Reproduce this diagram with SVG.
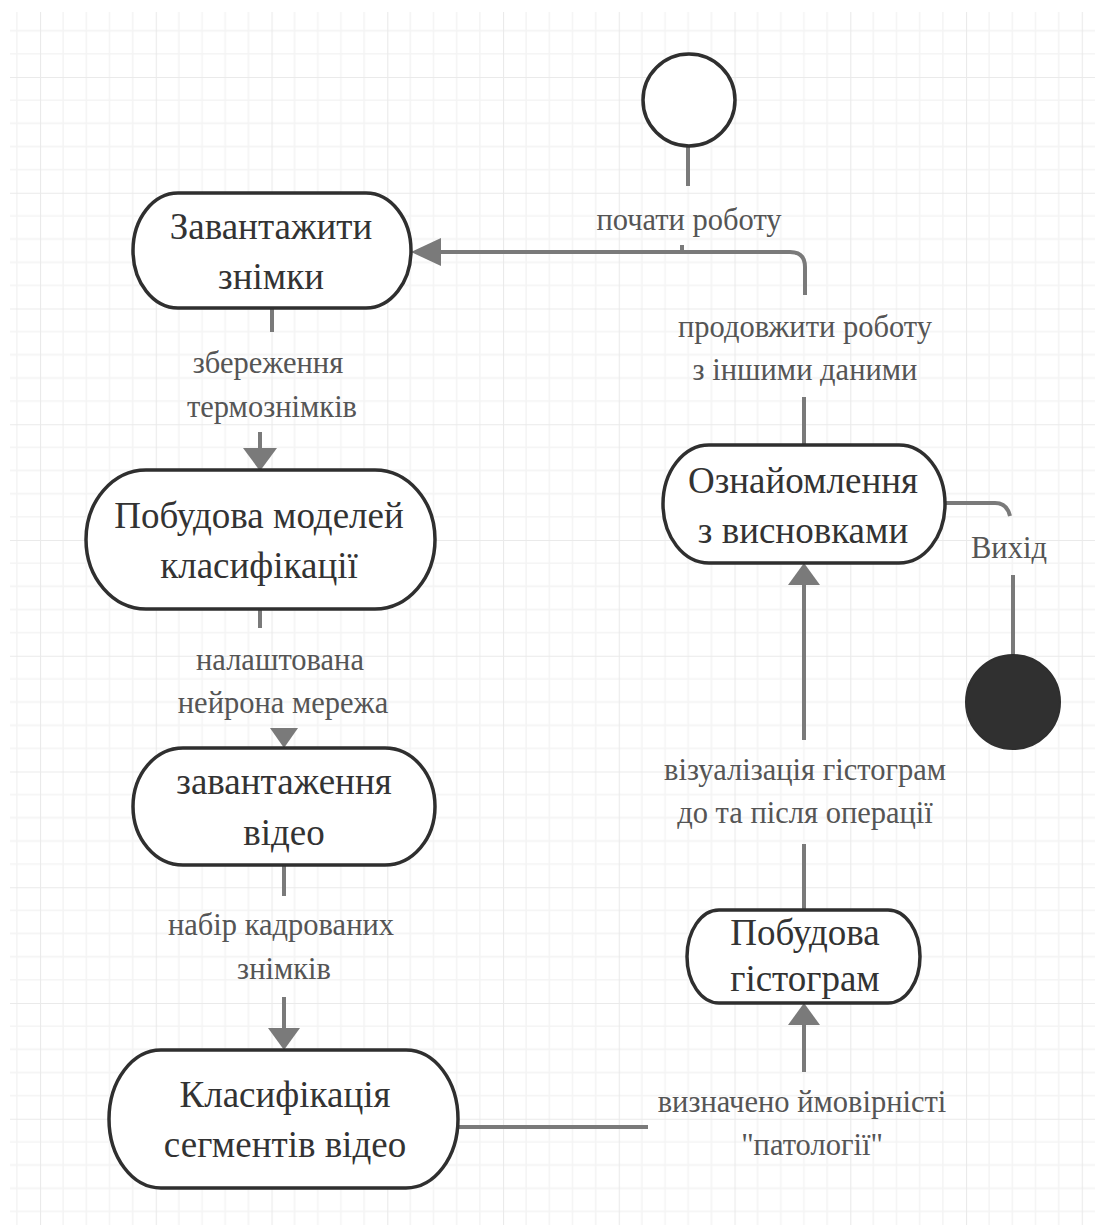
<svg xmlns="http://www.w3.org/2000/svg" width="1095" height="1226" viewBox="0 0 1095 1226">
<style>
.nt{font-family:"Liberation Serif","Times New Roman",serif;font-size:37px;fill:#333;text-anchor:middle}
.lb{font-family:"Liberation Serif","Times New Roman",serif;font-size:30.5px;fill:#555;text-anchor:middle}
.shape{fill:#fff;stroke:#2f2f2f;stroke-width:3.5}
.conn{fill:none;stroke:#7a7a7a;stroke-width:4}
.head{fill:#7a7a7a}
</style>
<defs>
<pattern id="grid" patternUnits="userSpaceOnUse" x="40" y="77" width="115.75" height="115.75">
<path d="M23.15 0V115.75M46.3 0V115.75M69.45 0V115.75M92.6 0V115.75M0 23.15H115.75M0 46.3H115.75M0 69.45H115.75M0 92.6H115.75" stroke="#f4f4f4" stroke-width="1.6" fill="none"/>
<path d="M0 0V115.75M0 0H115.75" stroke="#eaeaea" stroke-width="2.2" fill="none"/>
</pattern>
</defs>
<rect width="1095" height="1226" fill="#fff"/>
<rect x="10" y="12" width="1085" height="1213" fill="url(#grid)"/>

<g id="connectors">
<line class="conn" x1="688" y1="146" x2="688" y2="186"/>
<line class="conn" x1="682" y1="245" x2="682" y2="252"/>
<path class="conn" d="M805 295V267Q805 252 790 252H440"/>
<polygon class="head" points="411,252 441,238 441,266"/>
<line class="conn" x1="272" y1="308" x2="272" y2="332"/>
<line class="conn" x1="260" y1="432" x2="260" y2="450"/>
<polygon class="head" points="260,471 243,448 277,448"/>
<line class="conn" x1="260" y1="609" x2="260" y2="628"/>
<polygon class="head" points="284,748 270,728 298,728"/>
<line class="conn" x1="284" y1="865" x2="284" y2="896"/>
<line class="conn" x1="284" y1="997" x2="284" y2="1030"/>
<polygon class="head" points="284,1050 268,1028 300,1028"/>
<line class="conn" x1="458" y1="1127" x2="648" y2="1127"/>
<line class="conn" x1="804" y1="1072" x2="804" y2="1023"/>
<polygon class="head" points="804,1003 788,1025 820,1025"/>
<line class="conn" x1="804" y1="910" x2="804" y2="844"/>
<line class="conn" x1="804" y1="740" x2="804" y2="583"/>
<polygon class="head" points="804,563 788,585 820,585"/>
<line class="conn" x1="804" y1="445" x2="804" y2="397"/>
<path class="conn" d="M945 503H995Q1007 503 1010 516"/>
<line class="conn" x1="1013" y1="575" x2="1013" y2="655"/>
<text class="lb" x="689" y="230">почати роботу</text>
<text class="lb" x="268" y="373">збереження</text>
<text class="lb" x="272" y="417">термознімків</text>
<text class="lb" x="280" y="670">налаштована</text>
<text class="lb" x="283" y="713">нейрона мережа</text>
<text class="lb" x="281" y="935">набір кадрованих</text>
<text class="lb" x="284" y="979">знімків</text>
<text class="lb" x="802" y="1112">визначено ймовірністі</text>
<text class="lb" x="812" y="1155">"патології"</text>
<text class="lb" x="805" y="780">візуалізація гістограм</text>
<text class="lb" x="805" y="823">до та після операції</text>
<text class="lb" x="805" y="337">продовжити роботу</text>
<text class="lb" x="805" y="380">з іншими даними</text>
<text class="lb" x="1009" y="558">Вихід</text>
</g>

<g id="start">
<circle class="shape" cx="689" cy="100" r="46"/>
</g>
<g id="node-zavantazhyty">
<rect class="shape" x="133" y="193" width="278" height="115" rx="45" ry="57.5"/>
<text class="nt" x="271" y="239">Завантажити</text>
<text class="nt" x="271" y="289">знімки</text>
</g>
<g id="node-pobudova-modelei">
<rect class="shape" x="86" y="470" width="349" height="139" rx="60" ry="69.5"/>
<text class="nt" x="259" y="528">Побудова моделей</text>
<text class="nt" x="259" y="578">класифікації</text>
</g>
<g id="node-zavantazhennia-video">
<rect class="shape" x="133" y="748" width="302" height="117" rx="50" ry="58.5"/>
<text class="nt" x="284" y="794">завантаження</text>
<text class="nt" x="284" y="845">відео</text>
</g>
<g id="node-klasyfikatsiia">
<rect class="shape" x="109" y="1050" width="349" height="138" rx="52" ry="69"/>
<text class="nt" x="285" y="1107">Класифікація</text>
<text class="nt" x="285" y="1157">сегментів відео</text>
</g>
<g id="node-pobudova-histohram">
<rect class="shape" x="687" y="910" width="233" height="93" rx="32" ry="46.5"/>
<text class="nt" x="805" y="945">Побудова</text>
<text class="nt" x="805" y="991">гістограм</text>
</g>
<g id="node-oznaiomlennia">
<rect class="shape" x="663" y="445" width="282" height="118" rx="46" ry="59"/>
<text class="nt" x="803" y="493">Ознайомлення</text>
<text class="nt" x="803" y="543">з висновками</text>
</g>
<g id="end">
<circle cx="1013" cy="702" r="47" fill="#303030" stroke="#2f2f2f" stroke-width="2"/>
</g>
</svg>
